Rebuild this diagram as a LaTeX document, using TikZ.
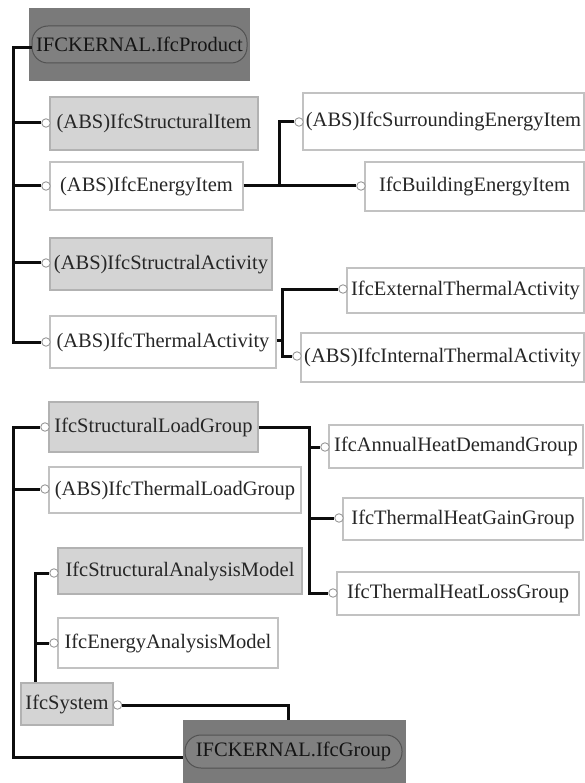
\documentclass[tikz,border=0pt]{standalone}
\usepackage{fontspec}
\setmainfont{Liberation Serif}
\begin{document}
\begin{tikzpicture}[x=1pt,y=-1pt,
  every node/.style={font=\fontsize{20.5}{22}\selectfont, text=black!85, inner sep=0pt},
  wbox/.style={draw=black!24, fill=white, line width=1.3pt},
  gbox/.style={draw=black!30, fill=black!17, line width=1.3pt},
  dbox/.style={draw=black!52, fill=black!52, line width=0.8pt},
  pill/.style={draw=black!68, fill=black!50, rounded corners=16pt, line width=1pt, text=black!92},
  conn/.style={line width=3pt, draw=black!95},
  knob/.style={circle, draw=black!40, fill=white, minimum size=8.5pt, line width=0.9pt}
]
\useasboundingbox (0,0) rectangle (585,783);

% ---- upper tree ----
\node[dbox, minimum width=220pt, minimum height=72pt] (prod) at (139,44) {};
\node[pill, minimum width=215pt, minimum height=37pt] (prodin) at (139.5,44.5) {IFCKERNAL.IfcProduct};

\node[gbox, minimum width=208pt, minimum height=53pt] (sItem) at (154,123.5) {(ABS)IfcStructuralItem};
\node[wbox, minimum width=193pt, minimum height=48pt] (eItem) at (146.5,186) {(ABS)IfcEnergyItem};
\node[wbox, minimum width=281pt, minimum height=57pt] (surr) at (443.5,121.5) {(ABS)IfcSurroundingEnergyItem};
\node[wbox, minimum width=219pt, minimum height=49pt] (bldg) at (474.5,186.5) {IfcBuildingEnergyItem};
\node[gbox, minimum width=222pt, minimum height=52pt] (sAct) at (161,264) {(ABS)IfcStructralActivity};
\node[wbox, minimum width=226pt, minimum height=52pt] (tAct) at (163,342) {(ABS)IfcThermalActivity};
\node[wbox, minimum width=237pt, minimum height=45pt] (ext) at (465.5,290.5) {IfcExternalThermalActivity};
\node[wbox, minimum width=283pt, minimum height=49pt] (int) at (442.5,357.5) {(ABS)IfcInternalThermalActivity};

% ---- lower tree ----
\node[gbox, minimum width=209pt, minimum height=50pt] (slg) at (153.5,427) {IfcStructuralLoadGroup};
\node[wbox, minimum width=252pt, minimum height=46pt] (tlg) at (175,490) {(ABS)IfcThermalLoadGroup};
\node[gbox, minimum width=244pt, minimum height=46pt] (sam) at (180,571) {IfcStructuralAnalysisModel};
\node[wbox, minimum width=220pt, minimum height=50pt] (eam) at (168,643) {IfcEnergyAnalysisModel};
\node[gbox, minimum width=92pt, minimum height=42pt] (sys) at (67,704) {IfcSystem};
\node[wbox, minimum width=254pt, minimum height=43pt] (ann) at (456,446.5) {IfcAnnualHeatDemandGroup};
\node[wbox, minimum width=240pt, minimum height=42pt] (gain) at (463,519) {IfcThermalHeatGainGroup};
\node[wbox, minimum width=242pt, minimum height=43pt] (loss) at (458,593.5) {IfcThermalHeatLossGroup};
\node[dbox, minimum width=222pt, minimum height=66pt] (group) at (294,753) {};
\node[pill, minimum width=217pt, minimum height=33pt] (groupin) at (293.5,751.5) {IFCKERNAL.IfcGroup};

% ---- connector knobs ----
\node[knob] (kSItem) at (46,123) {};
\node[knob] (kEItem) at (46,186) {};
\node[knob] (kSAct) at (46,263) {};
\node[knob] (kTAct) at (46,342) {};
\node[knob] (kSurr) at (299,122) {};
\node[knob] (kBldg) at (361,186) {};
\node[knob] (kExt) at (343,289) {};
\node[knob] (kInt) at (297,356) {};
\node[knob] (kSlg) at (45,427) {};
\node[knob] (kTlg) at (45,489) {};
\node[knob] (kSam) at (54,573) {};
\node[knob] (kEam) at (54,643) {};
\node[knob] (kAnn) at (325,447) {};
\node[knob] (kGain) at (339,518) {};
\node[knob] (kLoss) at (333,593) {};
\node[knob] (kSys) at (117.5,705) {};

% ---- branch points ----
\coordinate (tTop) at (13,48);
\coordinate (tBot) at (13,342);
\coordinate (bE) at (279,186);
\coordinate (bT) at (282,340);
\coordinate (bTop) at (13,427);
\coordinate (bBot) at (13,757);
\coordinate (bG) at (309,427);
\coordinate (bM) at (35,573);
\coordinate (bS) at (288,705);

% ---- connectors ----
\draw[conn] (prodin.west |- tTop) -- (tTop) -- (tBot) -- (kTAct);
\draw[conn] (tTop |- kSItem) -- (kSItem);
\draw[conn] (tTop |- kEItem) -- (kEItem);
\draw[conn] (tTop |- kSAct) -- (kSAct);

\draw[conn] (eItem.east |- kBldg) -- (kBldg);
\draw[conn] (bE) |- (kSurr);

\draw[conn] (tAct.east |- bT) -- (bT);
\draw[conn] (kExt) -| (bT) |- (kInt);

\draw[conn] (kSlg) -- (bTop) -- (bBot) -- (group.west |- bBot);
\draw[conn] (bTop |- kTlg) -- (kTlg);

\draw[conn] (slg.east) -- (bG) |- (kLoss);
\draw[conn] (bG |- kAnn) -- (kAnn);
\draw[conn] (bG |- kGain) -- (kGain);

\draw[conn] (kSam) -- (bM) -- (bM |- sys.north);
\draw[conn] (bM |- kEam) -- (kEam);

\draw[conn] (kSys) -- (bS) -- (bS |- group.north);
\end{tikzpicture}
\end{document}
